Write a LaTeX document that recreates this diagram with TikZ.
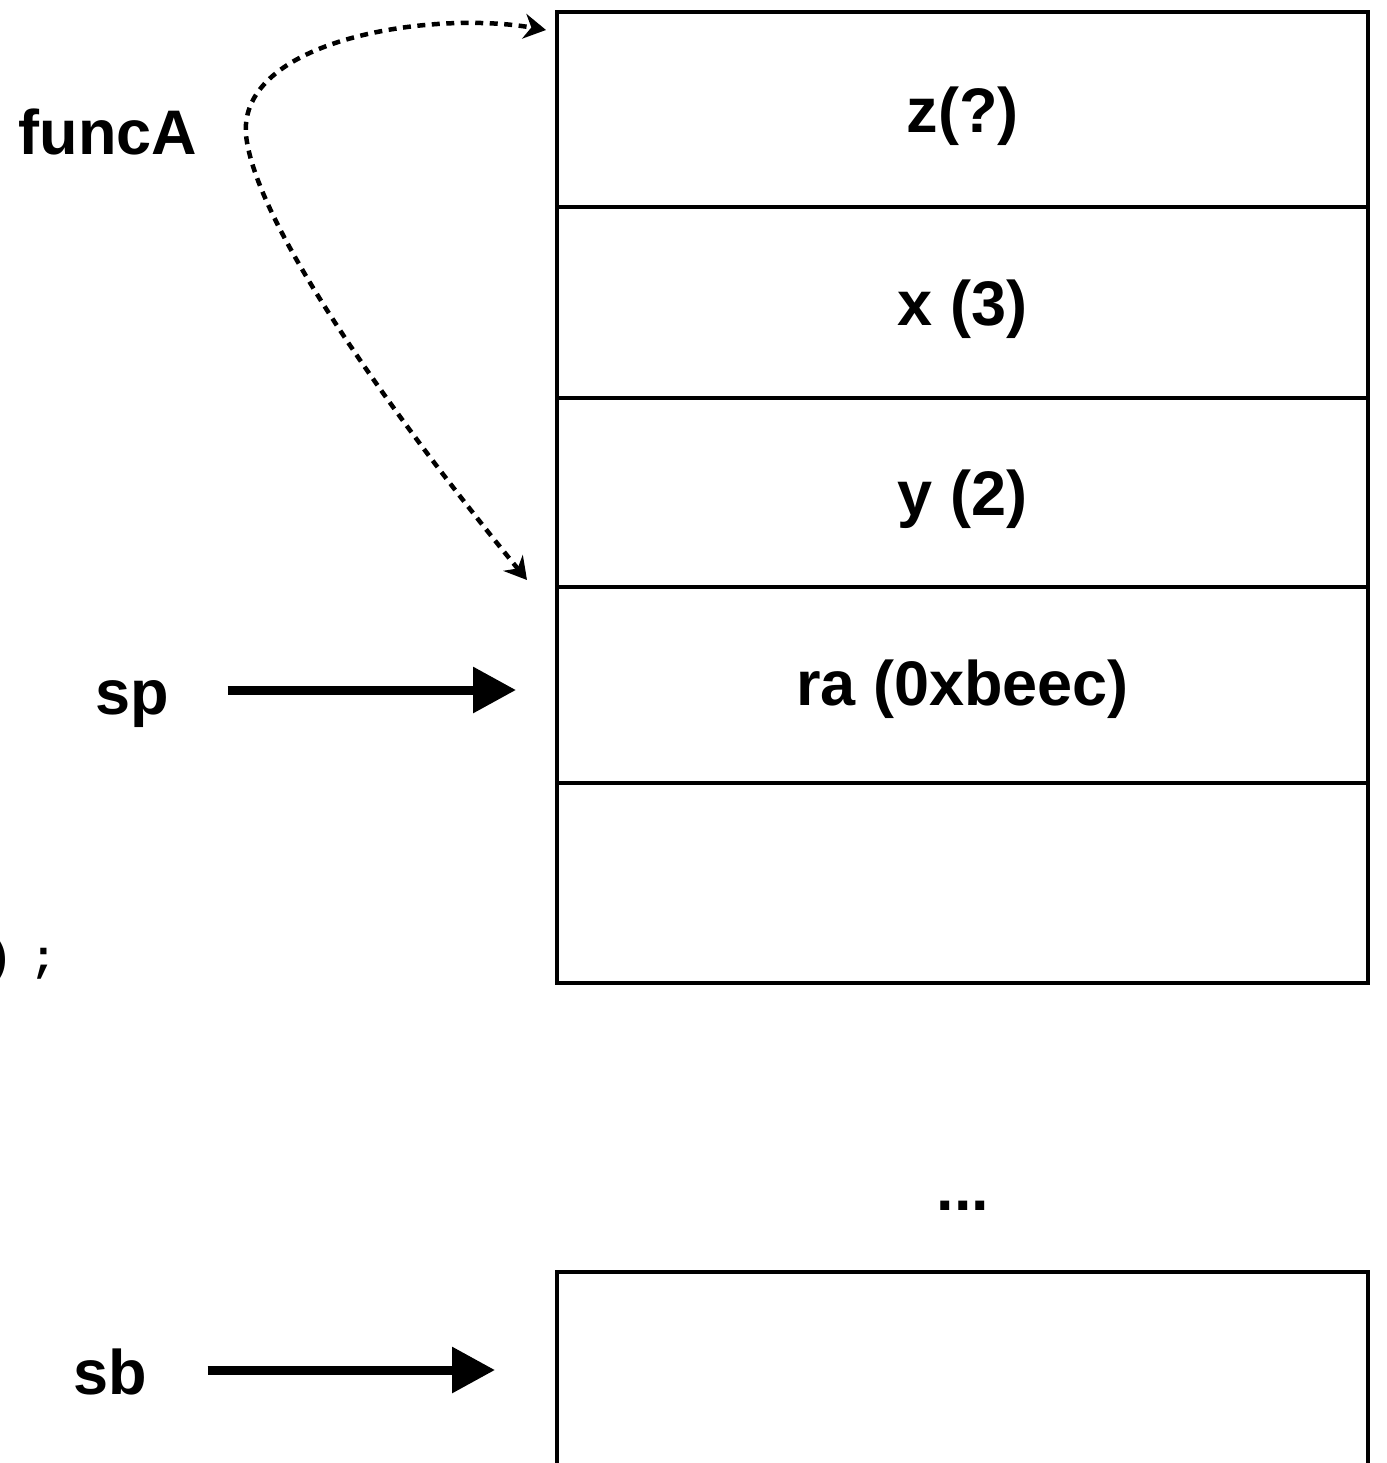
\documentclass[tikz,border=0pt]{standalone}
\usepackage{fontspec}
\setmainfont{Liberation Sans}
\newfontfamily\codefont{Liberation Mono}
\usetikzlibrary{arrows.meta}
\begin{document}
\begin{tikzpicture}[x=0.02cm,y=-0.02cm,
  every node/.style={font=\bfseries\fontsize{35.85pt}{43pt}\selectfont, inner sep=0pt, outer sep=0pt},
  cell/.style={draw, line width=0.08cm, minimum width=16.22cm, text height=0.92cm, text depth=0pt},
  lbl/.style={text height=0.96cm, text depth=0pt},
  ptr/.style={line width=0.18cm, -{Triangle[length=0.86cm,width=0.88cm]}},
  frame/.style={line width=0.09cm, dash pattern=on 0.16cm off 0.13cm,
    {Stealth[length=0.44cm,width=0.5cm]}-{Stealth[length=0.44cm,width=0.5cm]}}]
  \useasboundingbox (0,0) rectangle (1386,1463);
  % stack slots
  \node[cell, minimum height=3.9cm] (cellz) at (962.5,109.5) {z(?)};
  \node[cell, minimum height=3.82cm] (cellx) at (962.5,302.5) {x (3)};
  \node[cell, minimum height=3.78cm] (celly) at (962.5,492.5) {y (2)};
  \node[cell, minimum height=3.92cm, text height=0.8cm] (cellra) at (962.5,685) {ra (0xbeec)};
  \node[cell, minimum height=4cm] (cellempty) at (962.5,883) {};
  \node[anchor=base] (dots) at (963,1210) {...};
  \node[cell, minimum height=4.16cm] (cellbase) at (962.5,1376) {};
  % labels on the left
  \node[anchor=base] (funcA) at (108,155) {funcA};
  \node[lbl] (sp) at (132,690) {sp};
  \node[lbl] (sb) at (110,1370) {sb};
  \node[anchor=base west, font=\codefont\bfseries\fontsize{25pt}{30pt}\selectfont] (call) at (-13,971) {)\hspace{0.4em};};
  % pointers
  \draw[ptr, shorten <=1.18cm, shorten >=0.82cm] (sp.east) -- (sp.east -| cellra.west);
  \draw[ptr, shorten <=1.22cm, shorten >=1.24cm] (sb.east) -- (sb.east -| cellbase.west);
  % frame of funcA
  \coordinate (ftop) at (546,30);
  \coordinate (fbot) at (527,580);
  \draw[frame] (fbot) .. controls (380,400) and (255,220) .. (246,135)
    .. controls (238,40) and (430,10) .. (ftop);
\end{tikzpicture}
\end{document}
